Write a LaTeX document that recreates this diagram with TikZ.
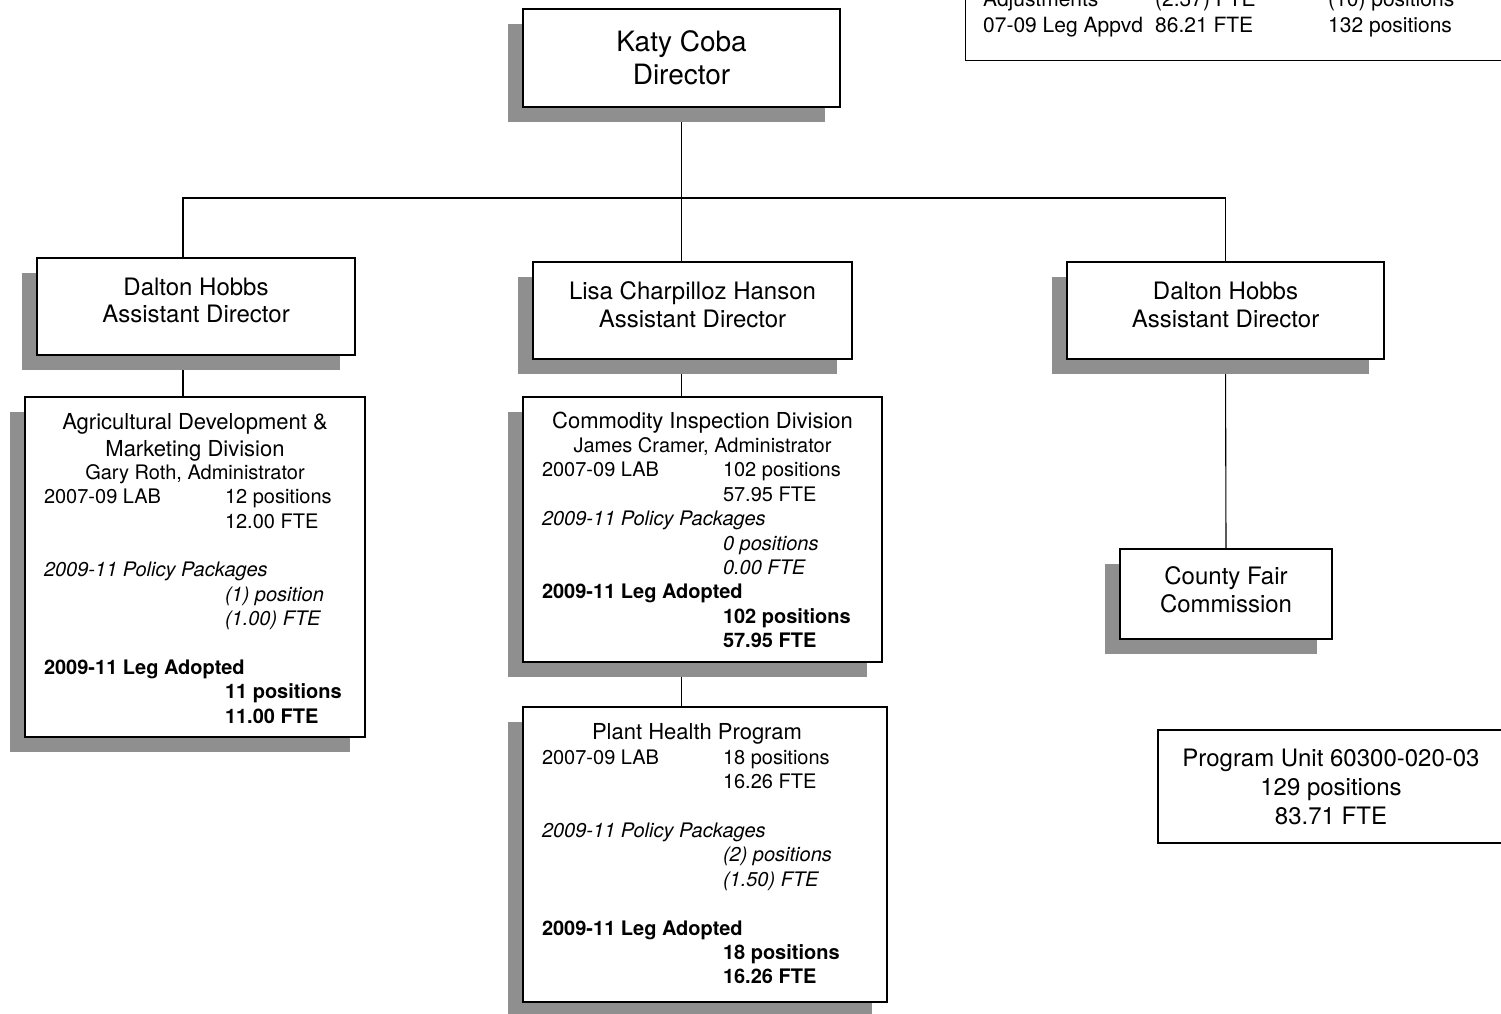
\documentclass[tikz,border=0pt]{standalone}
\usepackage{fontspec}
\setmainfont{TeX Gyre Heros}
\usetikzlibrary{shadows,backgrounds}
\definecolor{shadegray}{gray}{0.56}

\newcommand\rowfont{\fontsize{20}{24.4}\selectfont}
\newcommand\headfont{\fontsize{22}{24}\selectfont}
\newcommand\head[1]{\multicolumn{2}{@{}c@{}}{#1}}
\newcommand\wide[1]{\multicolumn{2}{@{}l@{}}{#1}}

\begin{document}
\begin{tikzpicture}[x=1pt,y=-1pt,
	box/.style={draw,line width=1.4pt,fill=white,inner xsep=19pt,inner ysep=0pt,
		drop shadow={shadow xshift=-15pt,shadow yshift=-15pt,fill=shadegray,opacity=1}},
	plain/.style={draw,line width=1.4pt,fill=white,inner sep=0pt},
	link/.style={line width=1.1pt}]
	\useasboundingbox (0,0) rectangle (1501,1014);
	\clip (0,0) rectangle (1501,1014);
	
	% totals (cut off at the top)
	\node[plain,minimum width=540,minimum height=160,anchor=south west] (totals) at (965,61) {};
	\node[anchor=base west,inner sep=0pt,font=\fontsize{21}{26}\selectfont] (totalrows) at (983,7)
		{\begin{tabular}[t]{@{}p{172pt}@{}p{173pt}@{}l@{}}
			Adjustments & (2.37) FTE & (10) positions\\
			07-09 Leg Appvd & 86.21 FTE & 132 positions
		\end{tabular}};
	
	\node[box,minimum width=317,minimum height=98,align=center,font=\fontsize{28}{33}\selectfont] (dir) at (681.5,58) {Katy Coba\\Director};
	
	\node[box,minimum width=318,minimum height=97,align=center,font=\fontsize{24}{27}\selectfont] (adl) at (196,306.5) {Dalton Hobbs\\Assistant Director\rule[-12pt]{0pt}{12pt}};
	\node[box,minimum width=319,minimum height=97,align=center,font=\fontsize{24}{28}\selectfont] (adm) at (692.5,310.5) {Lisa Charpilloz Hanson\\Assistant Director\rule[-12pt]{0pt}{12pt}};
	\node[box,minimum width=317,minimum height=97,align=center,font=\fontsize{24}{28}\selectfont] (adr) at (1225.5,310.5) {Dalton Hobbs\\Assistant Director\rule[-12pt]{0pt}{12pt}};
	
	\node[box,minimum width=340,minimum height=340,font=\rowfont] (agri) at (195,567) {%
		\begin{tabular}{@{}p{181pt}@{}p{121pt}@{}}
			\head{\rule{0pt}{26pt}\headfont Agricultural Development \&}\\[2.6pt]
			\head{\headfont Marketing Division}\\[-1.4pt]
			\head{Gary Roth, Administrator}\\
			2007-09 LAB & 12 positions\\
			& 12.00 FTE\\
			& \\
			\wide{\itshape 2009-11 Policy Packages}\\
			& \itshape (1) position\\
			& \itshape (1.00) FTE\\
			& \\
			\wide{\bfseries 2009-11 Leg Adopted}\\
			& \bfseries 11 positions\\
			& \bfseries 11.00 FTE
		\end{tabular}};
	
	\node[box,minimum width=359,minimum height=265,font=\rowfont] (com) at (702.5,529.5) {%
		\begin{tabular}{@{}p{181pt}@{}p{140pt}@{}}
			\head{\rule{0pt}{24pt}\headfont Commodity Inspection Division}\\
			\head{James Cramer, Administrator}\\
			2007-09 LAB & 102 positions\\
			& 57.95 FTE\\
			\wide{\itshape 2009-11 Policy Packages}\\
			& \itshape 0 positions\\
			& \itshape 0.00 FTE\\
			\wide{\bfseries 2009-11 Leg Adopted}\\
			& \bfseries 102 positions\\
			& \bfseries 57.95 FTE
		\end{tabular}};
	
	\node[box,minimum width=364,minimum height=295,font=\rowfont] (plant) at (705,854.5) {%
		\begin{tabular}{@{}p{181pt}@{}p{145pt}@{}}
			\head{\rule{0pt}{22pt}\hspace*{-16pt}\headfont Plant Health Program}\\
			2007-09 LAB & 18 positions\\
			& 16.26 FTE\\
			& \\
			\wide{\itshape 2009-11 Policy Packages}\\
			& \itshape (2) positions\\
			& \itshape (1.50) FTE\\
			& \\
			\wide{\bfseries 2009-11 Leg Adopted}\\
			& \bfseries 18 positions\\
			& \bfseries 16.26 FTE
		\end{tabular}};
	
	\node[box,minimum width=212,minimum height=90,align=center,font=\fontsize{24}{28}\selectfont] (fair) at (1226,594) {County Fair\\Commission\rule[-8pt]{0pt}{8pt}};
	
	\node[plain,minimum width=346,minimum height=113,align=center,font=\fontsize{24}{29}\selectfont] (unit) at (1331,786.5) {Program Unit 60300-020-03\\129 positions\\83.71 FTE};
	
	% connectors go under the boxes and their shadows
	\begin{scope}[on background layer]
	\coordinate (busl) at (183,198);
	\coordinate (busr) at (adr.north |- busl);
	\draw[link] (dir.south) -- (dir.south |- adm.north);
	\draw[link] (busl |- adl.north) -- (busl) -- (busr) -- (adr.north);
	\draw[link] (busl |- adl.south) -- (busl |- agri.north);
	\draw[link] (dir.south |- adm.south) -- (dir.south |- com.north);
	\draw[link] (dir.south |- com.south) -- (dir.south |- plant.north);
	\draw[link] (adr.south) -- (fair.north);
	\end{scope}
\end{tikzpicture}
\end{document}
